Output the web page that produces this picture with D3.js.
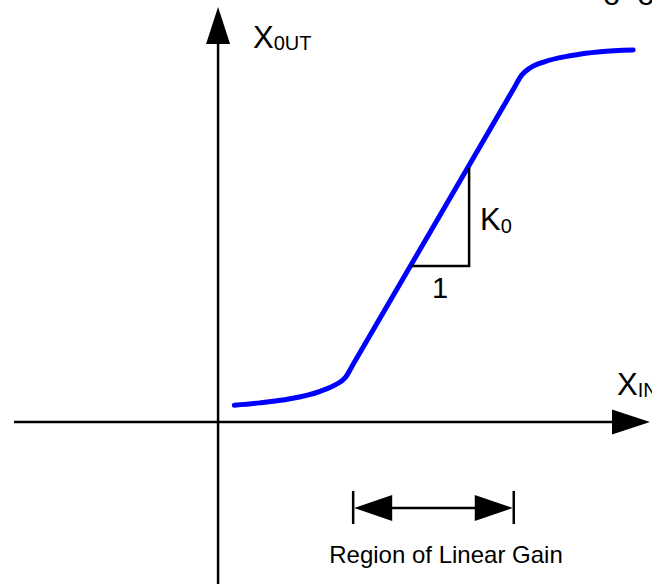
<!DOCTYPE html>
<html>
<head>
<meta charset="utf-8">
<script src="https://cdn.jsdelivr.net/npm/d3@7"></script>
<style>
  html, body { margin: 0; padding: 0; background: #fff; overflow: hidden; }
  svg { display: block; font-family: "Liberation Sans", Arial, sans-serif; }
</style>
</head>
<body>
<div id="graphic"></div>
<script>
// transfer curve (1 unit = one step of the "1" triangle)
const xIn  = [0.28, 0.72, 1.24, 1.76, 2.02, 2.19, 2.35, 5.08, 5.24, 5.38, 5.64, 6.07, 6.59, 7.16];
const xOut = [0.29, 0.33, 0.40, 0.53, 0.64, 0.76, 1.03, 5.71, 5.98, 6.10, 6.21, 6.31, 6.38, 6.41];

// slope triangle on the linear part
const slopeRun = [3.33, 4.33];
const slopeRise = [2.69, 4.38];

// region of linear gain marker
const gainRegion = [2.33, 5.10];
const gainRegionY = -1.48;

const xDomain = [-3.52, 7.45];
const yDomain = [-2.79, 7.15];

const width = 652, height = 584;

const svg = d3.select('#graphic')
	.append('svg')
	.attr('width', width)
	.attr('height', height);

const x = d3.scaleLinear().domain(xDomain).range([14, 650]);
const y = d3.scaleLinear().domain(yDomain).range([584, 7]);

const black = '#000';

// axes
svg.append('line')
	.attr('x1', x(xDomain[0])).attr('x2', x(xDomain[1]) - 20)
	.attr('y1', y(0)).attr('y2', y(0))
	.attr('stroke', black).attr('stroke-width', 2.5);

svg.append('line')
	.attr('x1', x(0)).attr('x2', x(0))
	.attr('y1', y(yDomain[0])).attr('y2', y(yDomain[1]) + 20)
	.attr('stroke', black).attr('stroke-width', 2.5);

// arrow heads
const tipX = x(xDomain[1]), tipY = y(yDomain[1]);
svg.append('path')
	.attr('d', `M${tipX},${y(0)} L${tipX - 38},${y(0) - 12.5} L${tipX - 38},${y(0) + 12.5} Z`)
	.attr('fill', black);
svg.append('path')
	.attr('d', `M${x(0)},${tipY} L${x(0) - 12},${tipY + 37} L${x(0) + 12},${tipY + 37} Z`)
	.attr('fill', black);

// curve
const curveData = xIn.map((d, i) => ({ a: d, b: xOut[i] }));
svg.append('path')
	.datum(curveData)
	.attr('fill', 'none')
	.attr('stroke', '#0000ff')
	.attr('stroke-width', 5)
	.attr('stroke-linecap', 'round')
	.attr('stroke-linejoin', 'round')
	.attr('d', d3.line()
		.x(d => x(d.a))
		.y(d => y(d.b))
		.curve(d3.curveMonotoneX));

// slope triangle
svg.append('path')
	.attr('d', `M${x(slopeRun[0])},${y(slopeRise[0])} L${x(slopeRun[1])},${y(slopeRise[0])} L${x(slopeRun[1])},${y(slopeRise[1])}`)
	.attr('fill', 'none')
	.attr('stroke', black)
	.attr('stroke-width', 2.5);

svg.append('text')
	.attr('x', (x(slopeRun[0]) + x(slopeRun[1])) / 2)
	.attr('y', y(slopeRise[0]) + 32)
	.attr('text-anchor', 'middle')
	.attr('font-size', 29)
	.text('1');

const k = svg.append('text')
	.attr('x', x(slopeRun[1]) + 11)
	.attr('y', 230)
	.attr('font-size', 31);
k.append('tspan').text('K');
k.append('tspan').attr('font-size', 20).attr('dy', 3).text('0');

// axis labels
const xo = svg.append('text')
	.attr('x', 253)
	.attr('y', 48)
	.attr('font-size', 31);
xo.append('tspan').text('X');
xo.append('tspan').attr('font-size', 20).attr('dy', 2).text('0UT');

const xi = svg.append('text')
	.attr('x', 617)
	.attr('y', 395)
	.attr('font-size', 31);
xi.append('tspan').text('X');
xi.append('tspan').attr('font-size', 20).attr('dy', 2).text('IN');

// cut-off text at the top right edge
svg.append('text')
	.attr('x', 603)
	.attr('y', 5)
	.attr('font-size', 31)
	.attr('letter-spacing', 17)
	.text('oo');

// region of linear gain
const gy = y(gainRegionY);
const g0 = x(gainRegion[0]), g1 = x(gainRegion[1]);
svg.append('line')
	.attr('x1', g0 + 20).attr('x2', g1 - 20)
	.attr('y1', gy).attr('y2', gy)
	.attr('stroke', black).attr('stroke-width', 2.5);
[g0, g1].forEach(gx => {
	svg.append('line')
		.attr('x1', gx).attr('x2', gx)
		.attr('y1', gy - 17).attr('y2', gy + 16)
		.attr('stroke', black).attr('stroke-width', 2.5);
});
svg.append('path')
	.attr('d', `M${g0 + 1},${gy} L${g0 + 39},${gy - 13} L${g0 + 39},${gy + 13} Z`)
	.attr('fill', black);
svg.append('path')
	.attr('d', `M${g1 - 1},${gy} L${g1 - 39},${gy - 13} L${g1 - 39},${gy + 13} Z`)
	.attr('fill', black);

svg.append('text')
	.attr('x', 446)
	.attr('y', 563)
	.attr('text-anchor', 'middle')
	.attr('font-size', 24)
	.text('Region of Linear Gain');
</script>
</body>
</html>
